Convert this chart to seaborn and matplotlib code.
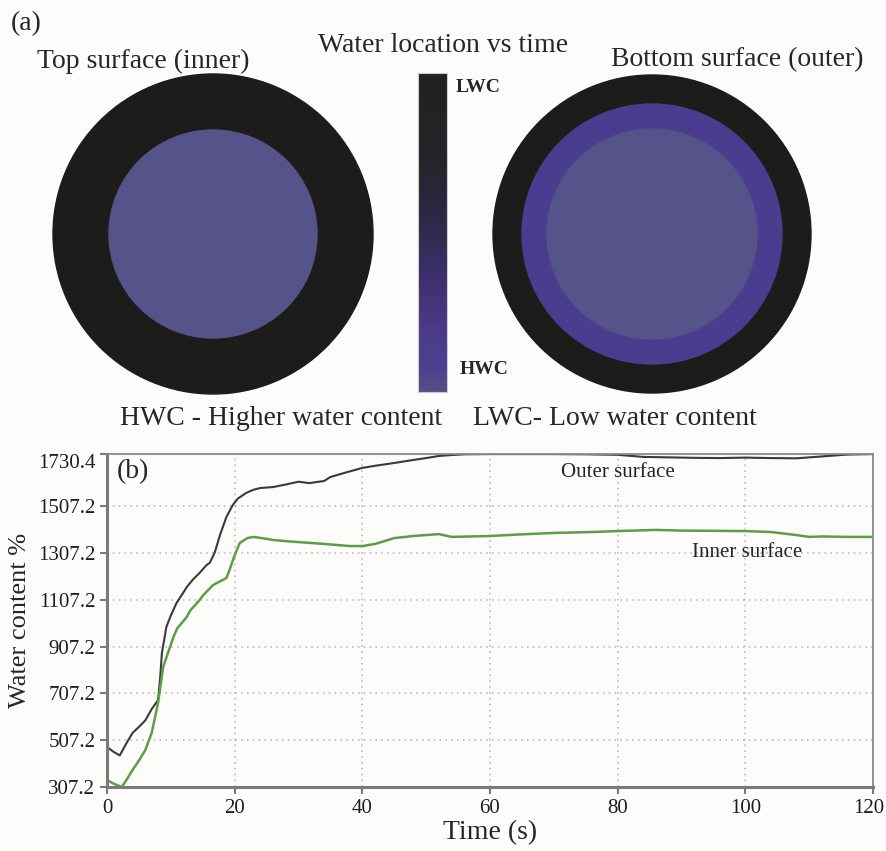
import numpy as np
import pandas as pd
import matplotlib
matplotlib.use("Agg")
import matplotlib.pyplot as plt
import matplotlib.transforms as mtrans
import seaborn as sns
from matplotlib.patches import Circle
from matplotlib.colors import LinearSegmentedColormap

# --- data ---
time_outer = [0, 1, 2, 3, 4, 5, 6, 7, 8, 8.3, 8.6, 9.3, 10, 10.9, 12, 12.5, 13.5, 14.5,
              15.6, 16.1, 16.9, 17.7, 18.7, 19.7, 20.5, 21.8, 23, 24, 26, 28, 30, 31.7,
              34, 35, 37, 40, 42, 45, 48, 50, 52, 54, 56, 60, 65, 70, 75, 80, 84, 88,
              92, 96, 100, 104, 108, 112, 116, 120]
water_outer = [478, 458, 442, 492, 538, 564, 592, 640, 679, 764, 880, 991, 1040, 1094,
               1140, 1162, 1195, 1222, 1256, 1265, 1311, 1384, 1461, 1512, 1540, 1564,
               1578, 1585, 1589, 1600, 1612, 1606, 1615, 1632, 1648, 1671, 1680, 1692,
               1705, 1713, 1722, 1726, 1729, 1730, 1730, 1730, 1729, 1727, 1718, 1716,
               1714, 1713, 1715, 1713, 1712, 1720, 1728, 1730]

time_inner = [0, 1, 2.3, 3, 4, 5, 6, 7, 8, 8.8, 10.4, 11, 12.5, 13, 14.5, 15, 16.6, 17,
              18.7, 19.2, 20, 20.8, 22, 22.9, 24, 26, 28, 30, 34, 38, 40, 42, 45, 48,
              50, 52, 54, 60, 65, 70, 76, 80, 86, 90, 95, 100, 104, 108, 110, 112, 116, 120]
water_inner = [337, 322, 307, 335, 380, 420, 465, 538, 666, 820, 948, 985, 1034, 1060,
               1106, 1125, 1170, 1176, 1200, 1235, 1298, 1350, 1371, 1376, 1372, 1363,
               1358, 1354, 1346, 1337, 1337, 1346, 1371, 1380, 1384, 1388, 1376, 1380,
               1387, 1393, 1397, 1401, 1406, 1403, 1402, 1401, 1397, 1384, 1376, 1378,
               1376, 1376]

y_ticks = [307.2, 507.2, 707.2, 907.2, 1107.2, 1307.2, 1507.2, 1730.4]
x_ticks = [0, 20, 40, 60, 80, 100, 120]

# --- style ---
sns.set_style("ticks")
plt.rcParams['font.family'] = ['Liberation Serif', 'DejaVu Serif']
bg = '#fdfcfa'
ring_col = '#1e1c1b'
core_col = '#56528a'
mid_col = '#4a3d90'

fig = plt.figure(figsize=(8.86, 8.51), dpi=100, facecolor=bg)

# ==============================================================================
# (a) schematic, drawn in pixel units of the upper part of the figure
# ==============================================================================
ax_top = fig.add_axes([0, 1 - 440 / 851, 1, 440 / 851])
ax_top.set_xlim(0, 886)
ax_top.set_ylim(440, 0)
ax_top.axis('off')

ax_top.add_patch(Circle((213, 234), 160, color=ring_col))
ax_top.add_patch(Circle((213, 234), 104, color=core_col))
ax_top.add_patch(Circle((652, 234), 159, color=ring_col))
ax_top.add_patch(Circle((652, 234), 130, color=mid_col))
ax_top.add_patch(Circle((652, 234), 105, color=core_col))

ax_top.text(11, 24, '(a)', fontsize=20, va='center', ha='left')
ax_top.text(143, 61, 'Top surface (inner)', fontsize=20, va='center', ha='center')
ax_top.text(443, 46, 'Water location vs time', fontsize=20, va='center', ha='center')
ax_top.text(737, 60, 'Bottom surface (outer)', fontsize=20, va='center', ha='center')
ax_top.text(456, 88, 'LWC', fontsize=14, fontweight='bold', va='center', ha='left')
ax_top.text(460, 370, 'HWC', fontsize=14, fontweight='bold', va='center', ha='left')
ax_top.text(120, 419, 'HWC - Higher water content', fontsize=20, va='center', ha='left')
ax_top.text(473, 419, 'LWC- Low water content', fontsize=20, va='center', ha='left')

# colour bar
cmap = LinearSegmentedColormap.from_list(
    'wc', [(0.0, '#222121'), (0.25, '#252327'), (0.45, '#2e2845'),
           (0.62, '#3b2f68'), (0.8, '#4a3a88'), (0.92, '#4c4190'), (1.0, '#555088')])
ax_cb = fig.add_axes([418 / 886, 1 - 392 / 851, 29 / 886, (392 - 73) / 851])
ax_cb.imshow(np.linspace(0, 1, 256).reshape(-1, 1), cmap=cmap, aspect='auto')
ax_cb.set_xticks([])
ax_cb.set_yticks([])
for s in ax_cb.spines.values():
    s.set_color('#cccccc')
    s.set_linewidth(0.8)

# ==============================================================================
# (b) water content vs time
# ==============================================================================
ax = fig.add_axes([107 / 886, (851 - 787) / 851, (873 - 107) / 886, (787 - 454) / 851])
ax.set_facecolor(bg)

df_outer = pd.DataFrame({'t': time_outer, 'w': water_outer})
df_inner = pd.DataFrame({'t': time_inner, 'w': water_inner})
sns.lineplot(data=df_outer, x='t', y='w', ax=ax, color='#3a3a3a', linewidth=1.5)
sns.lineplot(data=df_inner, x='t', y='w', ax=ax, color='#5a9f45', linewidth=1.8)

ax.set_xlim(0, 120)
ax.set_ylim(307.2, 1730.4)
ax.set_xticks(x_ticks)
ax.set_yticks(y_ticks)
ax.set_yticklabels([f'{v:.1f}' for v in y_ticks])
ax.tick_params(axis='both', labelsize=15, colors='#7a7a7a', labelcolor='#1e1e1e',
               length=5, width=1.5, direction='out')
ax.grid(True, linestyle=(0, (1, 2.5)), color='#bdbdbd', linewidth=1.2)

# nudge the edge labels the way the reference shows them
ylabs = ax.get_yticklabels()
ylabs[-1].set_transform(ylabs[-1].get_transform() +
                        mtrans.ScaledTranslation(0, -7 / 100, fig.dpi_scale_trans))
xlabs = ax.get_xticklabels()
xlabs[-1].set_transform(xlabs[-1].get_transform() +
                        mtrans.ScaledTranslation(-4 / 100, 0, fig.dpi_scale_trans))

for side in ['left', 'bottom']:
    ax.spines[side].set_color('#7a7a7a')
    ax.spines[side].set_linewidth(2.2)
for side in ['top', 'right']:
    ax.spines[side].set_visible(True)
    ax.spines[side].set_color('#8a8a8a')
    ax.spines[side].set_linewidth(1.3)

ax.set_xlabel('Time (s)', fontsize=20, labelpad=2)
ax.set_ylabel('Water content %', fontsize=19, labelpad=5)

ax.text(1.5, 1655, '(b)', fontsize=20, va='center', ha='left')
ax.text(80, 1650, 'Outer surface', fontsize=15, va='center', ha='center')
ax.text(100.3, 1310, 'Inner surface', fontsize=15, va='center', ha='center')

fig.savefig('out.png', dpi=100, facecolor=bg)
